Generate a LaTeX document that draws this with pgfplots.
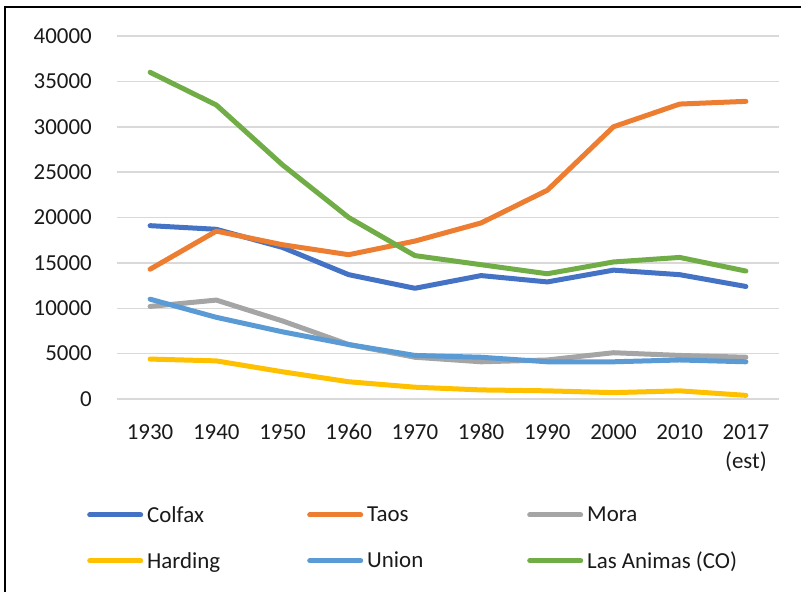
\documentclass[border=0pt]{standalone}
\usepackage{fontspec}
\setmainfont{Carlito}
\usepackage{pgfplots}
\pgfplotsset{compat=1.18}
\definecolor{cBlue}{HTML}{4472C4}
\definecolor{cOrange}{HTML}{ED7D31}
\definecolor{cGray}{HTML}{A5A5A5}
\definecolor{cYellow}{HTML}{FFC000}
\definecolor{cLBlue}{HTML}{5B9BD5}
\definecolor{cGreen}{HTML}{70AD47}
\definecolor{cGrid}{HTML}{D9D9D9}
\definecolor{cText}{HTML}{1A1A1A}
\begin{document}
\begin{tikzpicture}
\useasboundingbox (0,0) rectangle (801bp,592bp);
\draw[line width=2.5bp] (5bp,-10bp) -- (5bp,585bp) -- (820bp,585bp);
\begin{axis}[
  at={(117bp,193bp)}, anchor=south west,
  scale only axis, width=662bp, height=363bp,
  xmin=-0.5, xmax=9.5, ymin=0, ymax=40000,
  axis line style={draw=none},
  major tick length=0pt,
  ytick={0,5000,...,40000},
  ymajorgrids, grid style={cGrid, line width=1.5bp},
  xtick={0,...,9},
  xticklabels={1930,1940,1950,1960,1970,1980,1990,2000,2010,{2017\\(est)}},
  scaled y ticks=false,
  /pgf/number format/assume math mode=true,
  /pgf/number format/set thousands separator={},
  tick label style={font=\fontsize{23}{30}\selectfont, text=cText},
  yticklabel style={inner sep=0pt, xshift=-25bp},
  xticklabel style={inner sep=0pt, align=center, anchor=north, yshift=-25bp},
  every axis plot/.append style={line width=5bp, line join=round, line cap=round, mark=none},
  legend columns=3,
  legend style={draw=none, fill=none, inner sep=0pt,
    at={(axis description cs:-0.0453,-0.295)}, anchor=north west,
    font=\fontsize{23}{26}\selectfont, text=cText,
    nodes={inner sep=0pt, anchor=west},
    row sep=28bp,
    /tikz/every odd column/.append style={column sep=4bp},
    /tikz/every even column/.append style={column sep=8bp}},
  legend image code/.code={\draw[#1, line width=5bp, line cap=round] (0bp,0bp) -- (51bp,0bp);},
]
\addplot[cBlue] coordinates {(0,19100)(1,18700)(2,16700)(3,13700)(4,12200)(5,13600)(6,12900)(7,14200)(8,13700)(9,12400)};
\addlegendentry{\makebox[152bp][l]{Colfax}}
\addplot[cOrange] coordinates {(0,14300)(1,18500)(2,17000)(3,15900)(4,17400)(5,19400)(6,23000)(7,30000)(8,32500)(9,32800)};
\addlegendentry{\makebox[152bp][l]{Taos}}
\addplot[cGray] coordinates {(0,10200)(1,10900)(2,8600)(3,6000)(4,4600)(5,4100)(6,4300)(7,5100)(8,4800)(9,4600)};
\addlegendentry{\makebox[152bp][l]{Mora}}
\addplot[cYellow] coordinates {(0,4400)(1,4200)(2,3000)(3,1900)(4,1300)(5,1000)(6,900)(7,700)(8,900)(9,400)};
\addlegendentry{\makebox[152bp][l]{Harding}}
\addplot[cLBlue] coordinates {(0,11000)(1,9000)(2,7400)(3,6000)(4,4800)(5,4600)(6,4100)(7,4100)(8,4300)(9,4100)};
\addlegendentry{\makebox[152bp][l]{Union}}
\addplot[cGreen] coordinates {(0,36000)(1,32400)(2,25800)(3,20000)(4,15800)(5,14800)(6,13800)(7,15100)(8,15600)(9,14100)};
\addlegendentry{\makebox[152bp][l]{Las Animas (CO)}}
\end{axis}
\end{tikzpicture}
\end{document}
